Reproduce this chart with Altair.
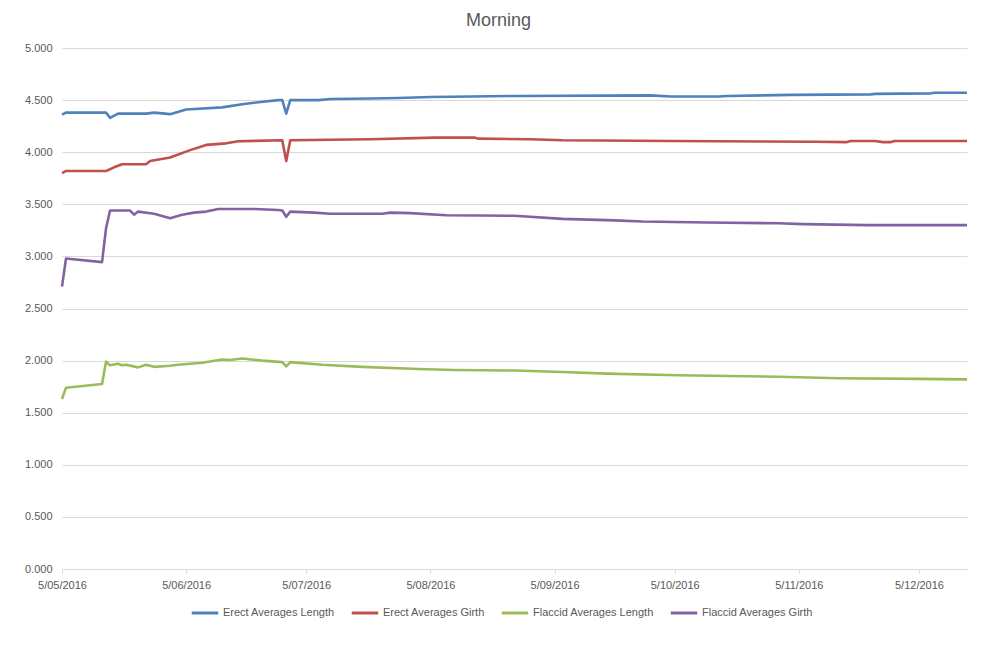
import altair as alt
import pandas as pd

SERIES = ["Erect Averages Length", "Erect Averages Girth",
          "Flaccid Averages Length", "Flaccid Averages Girth"]
COLORS = ["#4F81BD", "#C0504D", "#9BBB59", "#8064A2"]

erect_len_dates = ["2016-05-05", "2016-05-06", "2016-05-16", "2016-05-17", "2016-05-19",
                   "2016-05-26", "2016-05-28", "2016-06-01", "2016-06-05", "2016-06-14",
                   "2016-06-19", "2016-06-23", "2016-06-28", "2016-06-29", "2016-06-30",
                   "2016-07-01", "2016-07-08", "2016-07-11", "2016-07-21", "2016-07-28",
                   "2016-08-05", "2016-08-27", "2016-09-29", "2016-10-04", "2016-10-16",
                   "2016-10-18", "2016-11-03", "2016-11-23", "2016-11-24", "2016-12-08",
                   "2016-12-09", "2016-12-17"]
erect_len_vals = [4.36, 4.38, 4.38, 4.33, 4.37,
                  4.37, 4.38, 4.365, 4.41, 4.43,
                  4.46, 4.48, 4.50, 4.50, 4.37,
                  4.50, 4.50, 4.51, 4.515, 4.52,
                  4.53, 4.54, 4.545, 4.535, 4.535,
                  4.54, 4.55, 4.555, 4.56, 4.565,
                  4.57, 4.57]

erect_girth_dates = ["2016-05-05", "2016-05-06", "2016-05-16", "2016-05-18", "2016-05-20",
                     "2016-05-26", "2016-05-27", "2016-06-01", "2016-06-06", "2016-06-10",
                     "2016-06-15", "2016-06-18", "2016-06-29", "2016-06-30", "2016-07-01",
                     "2016-07-11", "2016-07-21", "2016-08-06", "2016-08-16", "2016-08-17",
                     "2016-08-30", "2016-09-07", "2016-10-04", "2016-11-09", "2016-11-17",
                     "2016-11-18", "2016-11-24", "2016-11-26", "2016-11-28", "2016-11-29",
                     "2016-12-17"]
erect_girth_vals = [3.80, 3.82, 3.82, 3.855, 3.885,
                    3.885, 3.915, 3.95, 4.02, 4.07,
                    4.085, 4.105, 4.115, 3.915, 4.115,
                    4.12, 4.125, 4.14, 4.14, 4.13,
                    4.125, 4.115, 4.107, 4.10, 4.097,
                    4.107, 4.107, 4.097, 4.097, 4.107,
                    4.107]

flaccid_len_dates = ["2016-05-05", "2016-05-06", "2016-05-15", "2016-05-16", "2016-05-17",
                     "2016-05-19", "2016-05-20", "2016-05-21", "2016-05-24", "2016-05-26",
                     "2016-05-28", "2016-06-01", "2016-06-03", "2016-06-06", "2016-06-09",
                     "2016-06-14", "2016-06-16", "2016-06-19", "2016-06-24", "2016-06-29",
                     "2016-06-30", "2016-07-01", "2016-07-09", "2016-07-19", "2016-08-02",
                     "2016-08-11", "2016-08-26", "2016-09-07", "2016-09-18", "2016-10-06",
                     "2016-10-31", "2016-11-15", "2016-12-05", "2016-12-17"]
flaccid_len_vals = [1.63, 1.74, 1.775, 1.99, 1.955,
                    1.97, 1.955, 1.96, 1.935, 1.96,
                    1.94, 1.95, 1.96, 1.97, 1.98,
                    2.01, 2.005, 2.02, 2.00, 1.985,
                    1.945, 1.985, 1.96, 1.94, 1.92,
                    1.91, 1.905, 1.89, 1.875, 1.86,
                    1.845, 1.83, 1.825, 1.82]

flaccid_girth_dates = ["2016-05-05", "2016-05-06", "2016-05-15", "2016-05-16", "2016-05-17",
                       "2016-05-22", "2016-05-23", "2016-05-24", "2016-05-28", "2016-06-01",
                       "2016-06-04", "2016-06-07", "2016-06-10", "2016-06-13", "2016-06-22",
                       "2016-06-28", "2016-06-29", "2016-06-30", "2016-07-01", "2016-07-07",
                       "2016-07-11", "2016-07-24", "2016-07-26", "2016-07-31", "2016-08-09",
                       "2016-08-26", "2016-09-07", "2016-09-20", "2016-09-27", "2016-10-13",
                       "2016-10-31", "2016-11-06", "2016-11-22", "2016-12-17"]
flaccid_girth_vals = [2.71, 2.98, 2.945, 3.27, 3.44,
                      3.44, 3.40, 3.43, 3.41, 3.365,
                      3.40, 3.42, 3.43, 3.455, 3.455,
                      3.445, 3.44, 3.38, 3.43, 3.42,
                      3.41, 3.41, 3.42, 3.415, 3.395,
                      3.39, 3.36, 3.346, 3.335, 3.325,
                      3.318, 3.31, 3.30, 3.30]

y_ticks = [0, 0.5, 1.0, 1.5, 2.0, 2.5, 3.0, 3.5, 4.0, 4.5, 5.0]
x_tick_months = [5, 6, 7, 8, 9, 10, 11, 12]

rows = []
for name, ds, vs in [(SERIES[0], erect_len_dates, erect_len_vals),
                     (SERIES[1], erect_girth_dates, erect_girth_vals),
                     (SERIES[2], flaccid_len_dates, flaccid_len_vals),
                     (SERIES[3], flaccid_girth_dates, flaccid_girth_vals)]:
    for i, (d, v) in enumerate(zip(ds, vs)):
        rows.append({"series": name, "date": d + "T00:00:00", "value": v, "order": i})
df = pd.DataFrame(rows)

FONT = "Liberation Sans Narrow, Liberation Sans, sans-serif"
GREY = "#595959"

chart = alt.Chart(df).mark_line(strokeWidth=2.6, strokeJoin="round").encode(
    x=alt.X("date:T",
            scale=alt.Scale(domain=[alt.DateTime(year=2016, month=5, date=5),
                                    alt.DateTime(year=2016, month=12, date=17)],
                            nice=False),
            axis=alt.Axis(title=None, format="%-d/%m/%Y", grid=False,
                          values=[alt.DateTime(year=2016, month=m, date=5) for m in x_tick_months],
                          domainColor="#d9d9d9", tickColor="#d9d9d9", tickSize=4,
                          labelColor=GREY, labelFontSize=11, labelFont=FONT,
                          labelPadding=6, labelFlush=False)),
    y=alt.Y("value:Q", scale=alt.Scale(domain=[0, 5], nice=False),
            axis=alt.Axis(title=None, format=".3f", values=y_ticks, domain=False,
                          ticks=False, gridColor="#d9d9d9", labelColor=GREY,
                          labelFontSize=11, labelFont=FONT, labelPadding=10)),
    color=alt.Color("series:N", scale=alt.Scale(domain=SERIES, range=COLORS),
                    legend=alt.Legend(title=None, orient="none", direction="horizontal",
                                      legendX=128, legendY=550,
                                      symbolType="stroke", symbolStrokeWidth=3,
                                      symbolSize=700, labelFontSize=11, labelFont=FONT,
                                      labelColor=GREY, labelOffset=3, columnPadding=10)),
    order="order:Q",
).properties(
    width=905, height=521,
    title=alt.Title("Morning", fontSize=18, color=GREY, font=FONT, fontWeight="normal",
                    anchor="middle", offset=12, dx=-16),
    autosize=alt.AutoSizeParams(type="none"),
    padding={"left": 54, "top": 40, "right": 20, "bottom": 80},
).configure_view(stroke=None)

chart.save("out.html", embed_options={"renderer": "svg", "actions": False})
